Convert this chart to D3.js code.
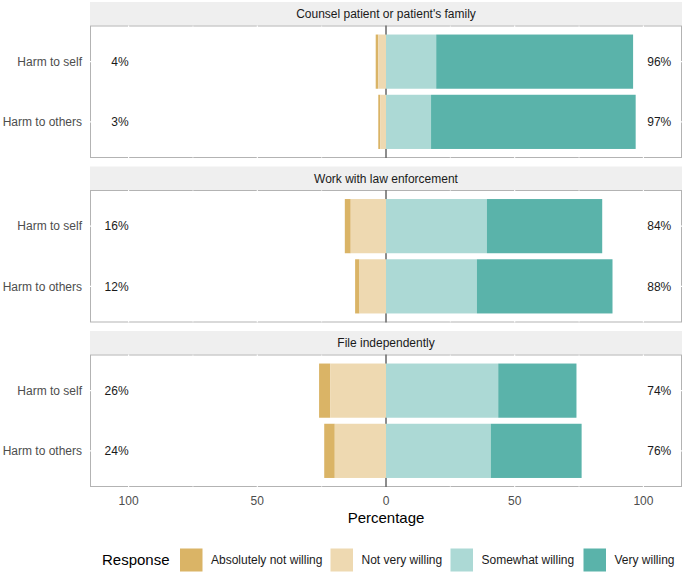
<!DOCTYPE html>
<html>
<head>
<meta charset="utf-8">
<script src="https://cdn.jsdelivr.net/npm/d3@7"></script>
<style>
  html, body { margin: 0; padding: 0; background: #fff; }
  svg { display: block; font-family: "Liberation Sans", Arial, sans-serif; }
</style>
</head>
<body>
<svg id="chart" width="686" height="574"></svg>
<script>
// ---- data ----
const facets = ["Counsel patient or patient's family", "Work with law enforcement", "File independently"];
const items = ["Harm to self", "Harm to others"];
const levels = ["Absolutely not willing", "Not very willing", "Somewhat willing", "Very willing"];
// values per facet x item (row order: facet1 self, facet1 others, facet2 self, ...)
const absolutelyNot = [1.0, 0.8, 2.3, 1.7, 4.3, 4.1];
const notVery       = [3.0, 2.2, 13.7, 10.3, 21.7, 19.9];
const somewhat      = [19.5, 17.5, 39.2, 35.3, 43.6, 40.7];
const very          = [76.5, 79.5, 44.8, 52.7, 30.4, 35.3];
const lowLabels  = ["4%", "3%", "16%", "12%", "26%", "24%"];
const highLabels = ["96%", "97%", "84%", "88%", "74%", "76%"];
const tickValues = [-100, -50, 0, 50, 100];
const tickLabels = ["100", "50", "0", "50", "100"];
const colors = ["#dab466", "#eed9b1", "#acd9d5", "#5ab3aa"];

// ---- layout ----
const svg = d3.select("#chart");
const left = 90, right = 682;
const stripH = 23.5, panelH = 132.5, gap = 8.5, top0 = 2;
const x = d3.scaleLinear().domain([-115, 115]).range([left, right]);

facets.forEach((f, fi) => {
  const stripTop = top0 + fi * (stripH + panelH + gap);
  const pTop = stripTop + stripH, pBot = pTop + panelH;
  const g = svg.append("g");

  // strip
  g.append("rect").attr("x", left).attr("y", stripTop).attr("width", right - left).attr("height", stripH)
    .attr("fill", "#efefef");
  g.append("text").attr("x", (left + right) / 2).attr("y", stripTop + stripH / 2 + 4.3)
    .attr("text-anchor", "middle").attr("font-size", 12).attr("fill", "#1a1a1a").text(f);

  // panel background with border
  g.append("rect").attr("x", left + 0.5).attr("y", pTop + 0.5).attr("width", right - left - 1).attr("height", panelH - 1)
    .attr("fill", "#fff").attr("stroke", "#b3b3b3").attr("stroke-width", 1);

  const y = d3.scaleBand().domain(items).range([pTop, pBot]).paddingInner(0.1).paddingOuter(0.15);

  // white grid lines
  d3.range(-100, 101, 25).forEach(v => {
    g.append("line").attr("x1", x(v)).attr("x2", x(v)).attr("y1", pTop).attr("y2", pBot)
      .attr("stroke", "#fff").attr("stroke-width", v % 50 === 0 ? 1.1 : 0.6);
  });
  items.forEach(it => {
    const cy = y(it) + y.bandwidth() / 2;
    g.append("line").attr("x1", left).attr("x2", right).attr("y1", cy).attr("y2", cy)
      .attr("stroke", "#fff").attr("stroke-width", 1.1);
  });

  // zero line (under bars)
  g.append("line").attr("x1", x(0)).attr("x2", x(0)).attr("y1", pTop).attr("y2", pBot)
    .attr("stroke", "#1a1a1a").attr("stroke-width", 1);

  items.forEach((it, ii) => {
    const k = fi * 2 + ii;
    const by = y(it), bh = y.bandwidth(), cy = by + bh / 2;
    const segs = [
      { lvl: 0, x0: -(notVery[k] + absolutelyNot[k]), x1: -notVery[k] },
      { lvl: 1, x0: -notVery[k], x1: 0 },
      { lvl: 2, x0: 0, x1: somewhat[k] },
      { lvl: 3, x0: somewhat[k], x1: somewhat[k] + very[k] }
    ];
    g.selectAll(null).data(segs).enter().append("rect")
      .attr("x", d => x(d.x0)).attr("y", by)
      .attr("width", d => x(d.x1) - x(d.x0)).attr("height", bh)
      .attr("fill", d => colors[d.lvl]);

    // item label
    svg.append("text").attr("x", 82).attr("y", cy + 4.3).attr("text-anchor", "end")
      .attr("font-size", 12).attr("fill", "#4d4d4d").text(it);
    // percentage labels
    g.append("text").attr("x", x(-100)).attr("y", cy + 4.3).attr("text-anchor", "end")
      .attr("font-size", 12).attr("fill", "#1a1a1a").text(lowLabels[k]);
    g.append("text").attr("x", x(101.5)).attr("y", cy + 4.3).attr("text-anchor", "start")
      .attr("font-size", 12).attr("fill", "#1a1a1a").text(highLabels[k]);
  });
});

// x-axis tick labels
const bottom = top0 + 3 * (stripH + panelH) + 2 * gap;
tickValues.forEach((v, i) => {
  svg.append("text").attr("x", x(v)).attr("y", bottom + 17.5).attr("text-anchor", "middle")
    .attr("font-size", 12).attr("fill", "#4d4d4d").text(tickLabels[i]);
});
svg.append("text").attr("x", x(0)).attr("y", 523).attr("text-anchor", "middle")
  .attr("font-size", 15).attr("fill", "#000").text("Percentage");

// legend
const legY = 560;
svg.append("text").attr("x", 102).attr("y", legY + 5.3).attr("font-size", 15).attr("fill", "#000").text("Response");
const keyX = [180, 330.5, 450.5, 583.5];
levels.forEach((l, i) => {
  svg.append("rect").attr("x", keyX[i]).attr("y", legY - 11.5).attr("width", 22.5).attr("height", 23)
    .attr("fill", colors[i]);
  svg.append("text").attr("x", keyX[i] + 31).attr("y", legY + 4.3).attr("font-size", 12)
    .attr("fill", "#1a1a1a").text(l);
});
</script>
</body>
</html>
